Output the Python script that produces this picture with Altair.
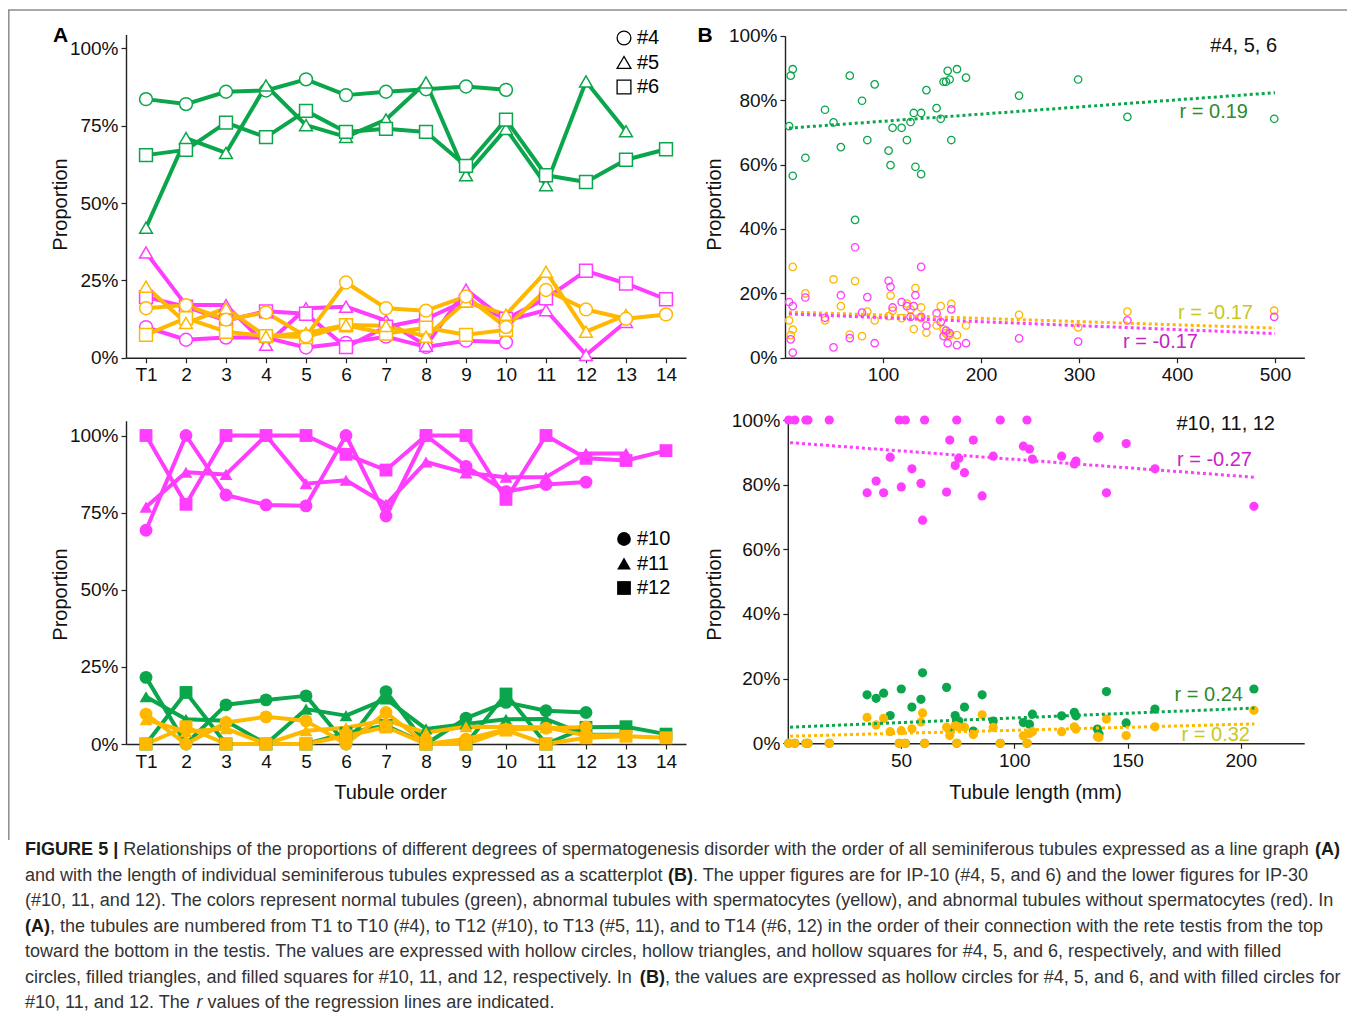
import json
import altair as alt
import pandas as pd

FONT = "Liberation Sans"
W, H = 1339, 1004

GREEN, YELLOW, MAGENTA = "#0ba64c", "#ffb800", "#ff3dff"
STATUS = ["normal", "with spermatocytes", "without spermatocytes"]
STATUS_COLORS = [GREEN, YELLOW, MAGENTA]

# ---------------- Panel A (IP-10, line graph by tubule order) ----------------
order_labels = ["T1", "2", "3", "4", "5", "6", "7", "8", "9", "10", "11", "12", "13", "14"]
a_green_4 = [83.6, 82.0, 86.0, 86.4, 90.0, 84.9, 86.0, 86.8, 87.7, 86.6]
a_green_5 = [42.0, 71.0, 66.2, 88.0, 75.2, 71.4, 77.0, 89.0, 59.0, 74.0, 55.8, 89.3, 73.2]
a_green_6 = [65.5, 67.2, 76.0, 71.3, 79.8, 73.0, 74.0, 73.0, 62.0, 77.0, 59.0, 56.8, 64.0, 67.4]
a_yellow_4 = [7.4, 12.8, 8.4, 7.0, 6.7, 10.5, 7.8, 9.7, 7.4, 9.0]
a_yellow_5 = [23.0, 11.2, 16.0, 6.9, 8.0, 10.6, 10.3, 6.8, 18.2, 13.9, 27.8, 8.4, 13.8]
a_yellow_6 = [16.0, 17.0, 12.3, 14.6, 6.9, 24.3, 16.0, 15.2, 19.8, 9.9, 21.9, 15.6, 12.6, 14.0]
a_magenta_4 = [9.9, 5.8, 6.5, 6.5, 3.3, 4.8, 6.8, 3.5, 5.5, 5.0]
a_magenta_5 = [34.0, 17.0, 17.0, 4.2, 16.0, 16.5, 12.0, 3.9, 22.0, 12.0, 15.4, 0.9, 11.6]
a_magenta_6 = [19.6, 16.5, 12.0, 15.0, 14.2, 3.4, 10.0, 12.5, 18.5, 12.5, 19.2, 28.1, 24.0, 18.9]

# ---------------- Panel C (IP-30, line graph by tubule order) ----------------
c_magenta_10 = [69.3, 100, 80.7, 77.5, 77.2, 100, 73.9, 100, 90.0, 81.8, 84.1, 84.9]
c_magenta_11 = [76.8, 88.1, 87.4, 100, 84.4, 85.5, 77.7, 91.4, 87.9, 86.5, 86.5, 94.2, 94.2]
c_magenta_12 = [100, 77.7, 100, 100, 100, 93.9, 88.8, 100, 100, 79.3, 100, 92.6, 91.9, 95.1]
c_green_10 = [21.6, 0, 12.7, 14.3, 15.6, 0, 17.0, 0, 8.4, 13.5, 10.8, 10.2]
c_green_11 = [15.3, 8.0, 7.5, 0, 11.3, 9.2, 14.6, 4.9, 6.5, 8.0, 8.1, 3.0, 3.0]
c_green_12 = [0, 16.7, 0, 0, 0, 3.5, 6.0, 0, 0, 16.2, 0, 5.4, 5.6, 3.2]
c_yellow_10 = [9.7, 0, 7.0, 8.8, 7.5, 0, 10.2, 0, 1.6, 4.7, 5.1, 5.5]
c_yellow_11 = [7.9, 4.0, 5.0, 0, 4.3, 5.3, 7.7, 3.7, 5.6, 5.5, 5.4, 2.8, 2.8]
c_yellow_12 = [0, 5.6, 0, 0, 0, 2.6, 5.5, 0, 0, 4.5, 0, 2.0, 2.5, 2.0]

# ---------------- Panel B (IP-10, scatter by tubule length) ----------------
b_length = [4.2, 5.8, 7.9, 7.9, 20.8, 40.8, 49.5, 57.0, 66.1, 71.5, 78.6, 84.0, 91.5, 105.7, 107.7,
            109.8, 119.0, 124.4, 128.1, 131.4, 133.1, 138.9, 138.9, 144.3, 154.7, 158.9, 161.8, 164.3,
            166.0, 168.0, 169.7, 175.5, 184.7, 238.8, 299.1, 349.4, 499.2]
b_green = [71.9, 87.6, 89.6, 56.5, 62.1, 77.0, 73.1, 65.4, 87.6, 42.8, 79.8, 67.6, 84.9, 64.3, 59.8,
           71.4, 71.4, 67.6, 73.2, 76.0, 59.3, 76.0, 57.0, 83.1, 77.5, 74.2, 85.7, 85.7, 89.1, 86.4,
           67.6, 89.6, 87.0, 81.4, 86.4, 74.8, 74.2]
b_yellow = [11.6, 7.0, 8.7, 28.2, 20.0, 11.6, 24.3, 16.0, 7.2, 23.8, 6.7, 14.3, 11.6, 12.9, 19.3,
            14.6, 12.3, 16.8, 15.0, 8.9, 21.6, 12.3, 15.6, 7.8, 10.0, 16.0, 8.8, 7.6, 7.0, 7.0,
            16.7, 7.0, 10.0, 13.3, 9.4, 14.3, 14.6]
b_magenta = [17.3, 5.7, 1.6, 16.0, 18.7, 12.4, 3.2, 19.4, 6.1, 34.3, 14.0, 18.8, 4.5, 23.9, 22.0,
             15.6, 17.3, 16.0, 12.7, 16.0, 19.4, 12.7, 28.2, 10.0, 13.8, 11.1, 6.7, 8.4, 4.5, 7.6,
             15.0, 3.9, 4.5, 6.0, 5.0, 11.6, 12.7]
b_trend_x = [4, 500]
b_trend_green = [71.3, 82.3]
b_trend_yellow = [14.2, 9.2]
b_trend_magenta = [13.6, 7.5]

# ---------------- Panel D (IP-30, scatter by tubule length) ----------------
d_length = [0.4, 3.1, 8.0, 8.9, 18.3, 35.0, 39.0, 42.3, 45.2, 49.2, 50.1, 51.9, 54.8, 58.8, 59.5,
            60.4, 70.1, 71.5, 73.9, 75.5, 74.6, 78.0, 81.9, 85.8, 90.7, 93.8, 104.0, 105.6, 106.7,
            108.0, 120.9, 126.5, 127.2, 136.7, 137.4, 140.7, 149.4, 162.1, 205.8]
d_magenta = [100, 100, 100, 100, 100, 77.5, 81.1, 77.5, 88.5, 100, 79.3, 100, 84.9, 80.4, 69.0,
             100, 77.7, 93.8, 85.9, 88.2, 100, 83.7, 93.8, 76.5, 88.8, 100, 91.9, 100, 91.0,
             87.9, 88.8, 86.4, 87.3, 94.4, 95.0, 77.5, 92.7, 84.9, 73.3]
d_green = [0, 0, 0, 0, 0, 15.0, 13.9, 15.5, 8.6, 0, 16.8, 0, 11.2, 13.6, 21.8,
           0, 17.3, 4.0, 8.6, 6.9, 0, 11.2, 3.8, 15.0, 6.9, 0, 6.4, 0, 5.9,
           9.0, 8.5, 9.6, 8.5, 4.4, 2.9, 16.0, 6.3, 10.6, 16.8]
d_yellow = [0, 0, 0, 0, 0, 8.0, 5.7, 7.7, 3.6, 0, 3.9, 0, 4.5, 6.6, 9.4,
            0, 5.0, 2.4, 5.5, 5.0, 0, 5.0, 2.7, 8.8, 4.9, 0, 2.3, 0, 3.0,
            3.6, 3.6, 5.1, 4.4, 2.0, 1.8, 7.5, 2.4, 5.1, 10.2]
d_trend_x = [1, 206]
d_trend_magenta = [93.0, 82.3]
d_trend_green = [5.0, 10.9]
d_trend_yellow = [2.2, 6.0]

legend_a = ["#4", "#5", "#6"]
legend_c = ["#10", "#11", "#12"]
shapes = ["circle", "triangle-up", "square"]

CAPTION = [
    [("FIGURE 5 |", "bold"),
     (" Relationships of the proportions of different degrees of spermatogenesis disorder with the order of all seminiferous tubules expressed as a line graph ", "normal"),
     ("(A)", "bold")],
    [("and with the length of individual seminiferous tubules expressed as a scatterplot ", "normal"),
     ("(B)", "bold"),
     (". The upper figures are for IP-10 (#4, 5, and 6) and the lower figures for IP-30", "normal")],
    [("(#10, 11, and 12). The colors represent normal tubules (green), abnormal tubules with spermatocytes (yellow), and abnormal tubules without spermatocytes (red). In", "normal")],
    [("(A)", "bold"),
     (", the tubules are numbered from T1 to T10 (#4), to T12 (#10), to T13 (#5, 11), and to T14 (#6, 12) in the order of their connection with the rete testis from the top", "normal")],
    [("toward the bottom in the testis. The values are expressed with hollow circles, hollow triangles, and hollow squares for #4, 5, and 6, respectively, and with filled", "normal")],
    [("circles, filled triangles, and filled squares for #10, 11, and 12, respectively. In ", "normal"),
     ("(B)", "bold"),
     (", the values are expressed as hollow circles for #4, 5, and 6, and with filled circles for", "normal")],
    [("#10, 11, and 12. The ", "normal"), ("r", "italic"),
     (" values of the regression lines are indicated.", "normal")],
]

# ---------------- helpers ----------------
S_N, S_Y, S_M = STATUS


def order_rows(series):
    rows = []
    for values, status, animal, marker in series:
        for i, v in enumerate(values):
            rows.append({"order": i + 1, "value": v, "status": status,
                         "series": animal + " " + status, "marker": marker})
    return pd.DataFrame(rows)


def length_rows(lengths, columns):
    rows = []
    for status, values in columns:
        for x, v in zip(lengths, values):
            rows.append({"length": x, "value": v, "status": status})
    return pd.DataFrame(rows)


# In the original, the yellow #4 series is drawn with squares and yellow #6 with circles.
df_a = order_rows([
    (a_magenta_4, S_M, "#4", "#4"), (a_magenta_5, S_M, "#5", "#5"), (a_magenta_6, S_M, "#6", "#6"),
    (a_green_4, S_N, "#4", "#4"), (a_green_5, S_N, "#5", "#5"), (a_green_6, S_N, "#6", "#6"),
    (a_yellow_4, S_Y, "#4", "#6"), (a_yellow_5, S_Y, "#5", "#5"), (a_yellow_6, S_Y, "#6", "#4"),
])
df_c = order_rows([
    (c_magenta_10, S_M, "#10", "#10"), (c_magenta_11, S_M, "#11", "#11"), (c_magenta_12, S_M, "#12", "#12"),
    (c_green_10, S_N, "#10", "#10"), (c_green_11, S_N, "#11", "#11"), (c_green_12, S_N, "#12", "#12"),
    (c_yellow_10, S_Y, "#10", "#10"), (c_yellow_11, S_Y, "#11", "#11"), (c_yellow_12, S_Y, "#12", "#12"),
])
df_b = length_rows(b_length, [(S_N, b_green), (S_Y, b_yellow), (S_M, b_magenta)])
df_b_trend = length_rows(b_trend_x, [(S_N, b_trend_green), (S_Y, b_trend_yellow), (S_M, b_trend_magenta)])
df_d = length_rows(d_length, [(S_M, d_magenta), (S_N, d_green), (S_Y, d_yellow)])
df_d_trend = length_rows(d_trend_x, [(S_M, d_trend_magenta), (S_N, d_trend_green), (S_Y, d_trend_yellow)])
ONE = pd.DataFrame({"k": [0]})

color_scale = alt.Scale(domain=STATUS, range=STATUS_COLORS)
ORDER_EXPR = json.dumps(order_labels) + "[datum.value - 1]"


def left_axis(axis_x, title_x, title_y, values):
    return alt.Axis(orient="left", offset=-axis_x, values=values, labelExpr="datum.value + '%'",
                    title="Proportion", titleX=title_x, titleY=title_y, titleAngle=270,
                    titleAlign="center", titleBaseline="middle")


def bottom_axis(axis_y, values, label_expr=None, title=None, title_x=0, title_y=0):
    kw = dict(orient="bottom", offset=axis_y - H, values=values, labelFlush=False, labelOverlap=False)
    if label_expr:
        kw["labelExpr"] = label_expr
    if title:
        kw.update(title=title, titleX=title_x, titleY=title_y, titleAlign="center", titleBaseline="middle")
    else:
        kw["title"] = None
    return alt.Axis(**kw)


def shape_key(labels, y_range, hollow):
    """Legend drawn from the label list through a point scale."""
    df = pd.DataFrame({"label": labels})
    ys = alt.Y("label:N", scale=alt.Scale(type="point", domain=labels, range=y_range, padding=0),
               axis=None, sort=labels)
    shape = alt.Shape("label:N", scale=alt.Scale(domain=labels, range=shapes), legend=None)
    if hollow:
        sym = alt.Chart(df).mark_point(filled=True, fill="white", stroke="black", strokeWidth=1.3,
                                       size=190, opacity=1)
    else:
        sym = alt.Chart(df).mark_point(filled=True, fill="black", strokeWidth=0, size=190, opacity=1)
    sym = sym.encode(x=alt.value(616), y=ys, shape=shape)
    txt = alt.Chart(df).mark_text(align="left", baseline="middle", font=FONT, fontSize=20,
                                  color="black").encode(x=alt.value(629), y=ys, text="label:N")
    return alt.layer(sym, txt)


def note(text, x, y, color, align="right"):
    return alt.Chart(ONE).mark_text(text=text, align=align, baseline="middle", font=FONT,
                                    fontSize=20, color=color).encode(x=alt.value(x), y=alt.value(y))


# ---------------- Panel A ----------------
xa = alt.X("order:Q", scale=alt.Scale(domain=[0.5, 14.5], range=[118, 678]),
           axis=bottom_axis(349.7, list(range(1, 15)), ORDER_EXPR))
ya = alt.Y("value:Q", scale=alt.Scale(domain=[0, 104.5], range=[349.7, 26.5]),
           axis=left_axis(118, -66, 196, [0, 25, 50, 75, 100]))
a_lines = alt.Chart(df_a).mark_line(strokeWidth=4, strokeJoin="round").encode(
    x=xa, y=ya, color=alt.Color("status:N", scale=color_scale, legend=None), detail="series:N")
a_points = alt.Chart(df_a).mark_point(filled=True, fill="white", size=165, strokeWidth=1.5, opacity=1).encode(
    x=xa, y=ya, stroke=alt.Stroke("status:N", scale=color_scale, legend=None),
    shape=alt.Shape("marker:N", scale=alt.Scale(domain=legend_a, range=shapes), legend=None))
panel_a = alt.layer(a_lines, a_points)

# ---------------- Panel C ----------------
xc = alt.X("order:Q", scale=alt.Scale(domain=[0.5, 14.5], range=[118, 678]),
           axis=bottom_axis(736, list(range(1, 15)), ORDER_EXPR, "Tubule order", 382, 48))
yc = alt.Y("value:Q", scale=alt.Scale(domain=[0, 104.8], range=[736, 412.7]),
           axis=left_axis(118, -66, 586, [0, 25, 50, 75, 100]))
c_lines = alt.Chart(df_c).mark_line(strokeWidth=4, strokeJoin="round").encode(
    x=xc, y=yc, color=alt.Color("status:N", scale=color_scale, legend=None), detail="series:N")
c_points = alt.Chart(df_c).mark_point(filled=True, size=165, strokeWidth=0, opacity=1).encode(
    x=xc, y=yc, fill=alt.Fill("status:N", scale=color_scale, legend=None),
    shape=alt.Shape("marker:N", scale=alt.Scale(domain=legend_c, range=shapes), legend=None))
panel_c = alt.layer(c_lines, c_points)

# ---------------- Panel B ----------------
xb = alt.X("length:Q", scale=alt.Scale(domain=[0, 530], range=[777, 1296.4]),
           axis=bottom_axis(349.7, [100, 200, 300, 400, 500]))
yb = alt.Y("value:Q", scale=alt.Scale(domain=[0, 100], range=[349.7, 27.7]),
           axis=left_axis(777, -71, 196, [0, 20, 40, 60, 80, 100]))
b_points = alt.Chart(df_b).mark_point(filled=False, size=55, strokeWidth=1.3, opacity=1).encode(
    x=xb, y=yb, color=alt.Color("status:N", scale=color_scale, legend=None))
b_trend = alt.Chart(df_b_trend).mark_line(strokeDash=[3, 3], strokeWidth=3).encode(
    x=xb, y=yb, color=alt.Color("status:N", scale=color_scale, legend=None), detail="status:N")
panel_b = alt.layer(b_points, b_trend)

# ---------------- Panel D ----------------
xd = alt.X("length:Q", scale=alt.Scale(domain=[0, 228], range=[779.8, 1296.2]),
           axis=bottom_axis(735.3, [50, 100, 150, 200], None, "Tubule length (mm)", 1027, 48.7))
yd = alt.Y("value:Q", scale=alt.Scale(domain=[0, 101.3], range=[735.3, 407.8]),
           axis=left_axis(779.8, -73.8, 586, [0, 20, 40, 60, 80, 100]))
d_points = alt.Chart(df_d).mark_circle(size=85, opacity=1).encode(
    x=xd, y=yd, color=alt.Color("status:N", scale=color_scale, legend=None))
d_trend = alt.Chart(df_d_trend).mark_line(strokeDash=[3, 3], strokeWidth=3).encode(
    x=xd, y=yd, color=alt.Color("status:N", scale=color_scale, legend=None), detail="status:N")
panel_d = alt.layer(d_points, d_trend)

# ---------------- keys and annotations ----------------
key_a = shape_key(legend_a, [30, 79], hollow=True)
key_c = shape_key(legend_c, [531, 580], hollow=False)
notes = [
    note("#4, 5, 6", 1269, 38, "#111"),
    note("r = 0.19", 1240, 104, "#2e8b2e"),
    note("r = -0.17", 1245, 305, "#c8c81e"),
    note("r = -0.17", 1190, 334, "#c624c6"),
    note("#10, 11, 12", 1267, 416, "#111"),
    note("r = -0.27", 1244, 452, "#c624c6"),
    note("r = 0.24", 1235, 687, "#2e8b2e"),
    note("r = 0.32", 1242, 727, "#c8c81e"),
]
letters = [
    alt.Chart(ONE).mark_text(text=t, font=FONT, fontSize=21, fontWeight="bold", align="center",
                             baseline="middle", color="black").encode(x=alt.value(x), y=alt.value(28))
    for t, x in [("A", 52.5), ("B", 697)]
]
frame = [
    alt.Chart(ONE).mark_rule(color="#8c8c8c", strokeWidth=1.5).encode(
        x=alt.value(0), x2=alt.value(W), y=alt.value(2)),
    alt.Chart(ONE).mark_rule(color="#8c8c8c", strokeWidth=1.5).encode(
        x=alt.value(0.8), y=alt.value(2), y2=alt.value(832)),
]

# ---------------- caption (Helvetica/Arial metrics for segment placement) ----------------
REG = dict(zip("abcdefghijklmnopqrstuvwxyz",
               [556, 556, 500, 556, 556, 278, 556, 556, 222, 222, 500, 222, 833, 556, 556, 556, 556,
                333, 500, 278, 556, 500, 722, 500, 500, 500]))
REG.update(zip("ABCDEFGHIJKLMNOPQRSTUVWXYZ",
               [667, 667, 722, 722, 667, 611, 778, 722, 278, 500, 667, 556, 833, 722, 778, 667, 778,
                722, 667, 611, 722, 667, 944, 667, 667, 611]))
REG.update({c: 556 for c in "0123456789#"})
REG.update({" ": 278, "(": 333, ")": 333, ",": 278, ".": 278, "-": 333, "|": 260})
BOLD = dict(zip("abcdefghijklmnopqrstuvwxyz",
                [556, 611, 556, 611, 556, 333, 611, 611, 278, 278, 556, 278, 889, 611, 611, 611, 611,
                 389, 556, 333, 611, 556, 778, 556, 556, 500]))
BOLD.update(zip("ABCDEFGHIJKLMNOPQRSTUVWXYZ",
                [722, 722, 722, 722, 667, 611, 778, 722, 278, 556, 722, 611, 833, 722, 778, 667, 778,
                 722, 667, 611, 722, 667, 944, 667, 667, 611]))
BOLD.update({c: 556 for c in "0123456789#"})
BOLD.update({" ": 278, "(": 333, ")": 333, ",": 278, ".": 278, "-": 333, "|": 280})


def seg_units(text, style):
    table = BOLD if style == "bold" else REG
    return sum(table.get(ch, 556) for ch in text)


cap_size = 1315 / sum(seg_units(t, s) for t, s in CAPTION[0]) * 1000
cap_rows = []
for li, segs in enumerate(CAPTION):
    x = 17.0
    for text, style in segs:
        lead = len(text) - len(text.lstrip(" "))
        cap_rows.append({"text": text.strip(), "style": style,
                         "px": x + seg_units(" " * lead, "normal") * cap_size / 1000,
                         "py": 842 + li * 25.5})
        x += seg_units(text, style) * cap_size / 1000
df_cap = pd.DataFrame(cap_rows)


def caption_layer(style, **mark_kw):
    return alt.Chart(df_cap).transform_filter(alt.datum.style == style).mark_text(
        align="left", baseline="middle", font=FONT, fontSize=round(cap_size, 2), **mark_kw).encode(
        x=alt.X("px:Q", scale=None, axis=None), y=alt.Y("py:Q", scale=None, axis=None), text="text:N")


captions = [
    caption_layer("normal", color="#333333"),
    caption_layer("bold", color="#1a1a1a", fontWeight="bold"),
    caption_layer("italic", color="#333333", fontStyle="italic"),
]

chart = alt.layer(
    panel_a, panel_b, panel_c, panel_d, key_a, key_c, *notes, *letters, *frame, *captions
).resolve_scale(
    x="independent", y="independent", shape="independent"
).properties(
    width=W, height=H, autosize=alt.AutoSizeParams(type="none"), padding=0
).configure_view(
    stroke=None
).configure_axis(
    grid=False, domainColor="#222222", domainWidth=1.4, tickColor="#222222", tickWidth=1.2,
    tickSize=5, labelFont=FONT, labelFontSize=19, labelColor="#111111", labelPadding=3,
    titleFont=FONT, titleFontSize=20, titleFontWeight="normal", titleColor="#111111"
)

chart.save("out.html", embed_options={"renderer": "svg", "actions": False})
